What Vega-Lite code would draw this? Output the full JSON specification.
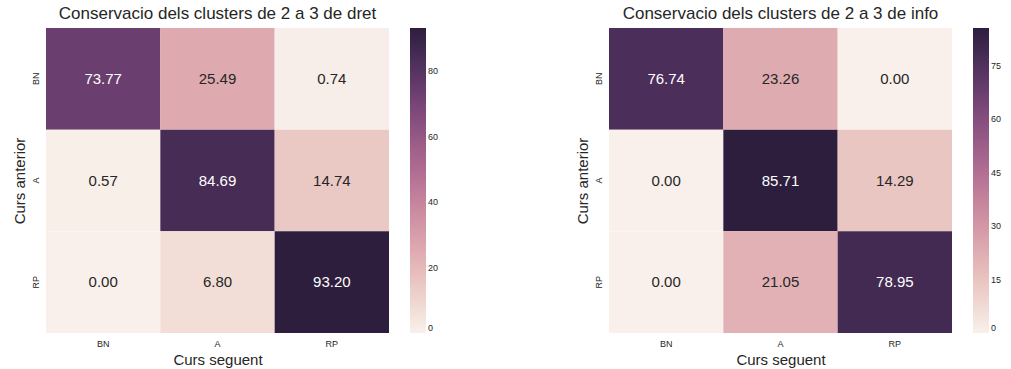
{
  "$schema": "https://vega.github.io/schema/vega-lite/v6.json",
  "background": "white",
  "padding": {"left": 12, "top": 5, "right": 0, "bottom": 5},
  "datasets": {
    "dret": [
      {"anterior": "BN", "seguent": "BN", "value": 73.77},
      {"anterior": "BN", "seguent": "A", "value": 25.49},
      {"anterior": "BN", "seguent": "RP", "value": 0.74},
      {"anterior": "A", "seguent": "BN", "value": 0.57},
      {"anterior": "A", "seguent": "A", "value": 84.69},
      {"anterior": "A", "seguent": "RP", "value": 14.74},
      {"anterior": "RP", "seguent": "BN", "value": 0.0},
      {"anterior": "RP", "seguent": "A", "value": 6.80},
      {"anterior": "RP", "seguent": "RP", "value": 93.20}
    ],
    "info": [
      {"anterior": "BN", "seguent": "BN", "value": 76.74},
      {"anterior": "BN", "seguent": "A", "value": 23.26},
      {"anterior": "BN", "seguent": "RP", "value": 0.0},
      {"anterior": "A", "seguent": "BN", "value": 0.0},
      {"anterior": "A", "seguent": "A", "value": 85.71},
      {"anterior": "A", "seguent": "RP", "value": 14.29},
      {"anterior": "RP", "seguent": "BN", "value": 0.0},
      {"anterior": "RP", "seguent": "A", "value": 21.05},
      {"anterior": "RP", "seguent": "RP", "value": 78.95}
    ]
  },
  "spacing": 136,
  "resolve": {"scale": {"color": "independent"}, "legend": {"color": "independent"}},
  "hconcat": [
    {
      "data": {"name": "dret"},
      "width": 343,
      "height": 305,
      "title": "Conservacio dels clusters de 2 a 3 de dret",
      "encoding": {
        "x": {"field": "seguent", "type": "nominal", "sort": ["BN", "A", "RP"], "title": "Curs seguent", "scale": {"paddingInner": 0, "paddingOuter": 0}},
        "y": {"field": "anterior", "type": "nominal", "sort": ["BN", "A", "RP"], "title": "Curs anterior", "scale": {"paddingInner": 0, "paddingOuter": 0}}
      },
      "layer": [
        {
          "mark": {"type": "rect"},
          "encoding": {
            "color": {
              "field": "value", "type": "quantitative",
              "scale": {"domain": [0, 93.2], "range": ["#f9f0eb", "#edd1cb", "#e1b0b4", "#cf91a3", "#b87496", "#9a5b88", "#774576", "#51315e", "#2d1e3e"]},
              "legend": {"values": [0, 20, 40, 60, 80]}
            }
          }
        },
        {
          "mark": {"type": "text", "fontSize": 15},
          "encoding": {
            "text": {"field": "value", "type": "quantitative", "format": ".2f"},
            "color": {"condition": {"test": "datum.value > 50", "value": "white"}, "value": "#262626"}
          }
        }
      ]
    },
    {
      "data": {"name": "info"},
      "width": 343,
      "height": 305,
      "title": "Conservacio dels clusters de 2 a 3 de info",
      "encoding": {
        "x": {"field": "seguent", "type": "nominal", "sort": ["BN", "A", "RP"], "title": "Curs seguent", "scale": {"paddingInner": 0, "paddingOuter": 0}},
        "y": {"field": "anterior", "type": "nominal", "sort": ["BN", "A", "RP"], "title": "Curs anterior", "scale": {"paddingInner": 0, "paddingOuter": 0}}
      },
      "layer": [
        {
          "mark": {"type": "rect"},
          "encoding": {
            "color": {
              "field": "value", "type": "quantitative",
              "scale": {"domain": [0, 85.71], "range": ["#f9f0eb", "#edd1cb", "#e1b0b4", "#cf91a3", "#b87496", "#9a5b88", "#774576", "#51315e", "#2d1e3e"]},
              "legend": {"values": [0, 15, 30, 45, 60, 75]}
            }
          }
        },
        {
          "mark": {"type": "text", "fontSize": 15},
          "encoding": {
            "text": {"field": "value", "type": "quantitative", "format": ".2f"},
            "color": {"condition": {"test": "datum.value > 50", "value": "white"}, "value": "#262626"}
          }
        }
      ]
    }
  ],
  "config": {
    "font": "Liberation Sans",
    "view": {"stroke": null},
    "title": {"fontSize": 17, "fontWeight": "normal", "color": "#262626", "offset": 5, "anchor": "middle"},
    "axis": {"domain": false, "ticks": false, "grid": false, "labelFontSize": 9, "labelColor": "#262626", "labelPadding": 6, "titleFontSize": 15, "titleFontWeight": "normal", "titleColor": "#262626", "titlePadding": 4},
    "axisX": {"labelAngle": 0},
    "axisY": {"labelAngle": -90, "labelAlign": "center", "labelBaseline": "bottom"},
    "legend": {"title": null, "gradientLength": 305, "gradientThickness": 16, "offset": 21, "labelFontSize": 9, "labelColor": "#262626", "labelOffset": 6, "gradientStrokeWidth": 0, "labelBaseline": "middle", "padding": 0}
  }
}
